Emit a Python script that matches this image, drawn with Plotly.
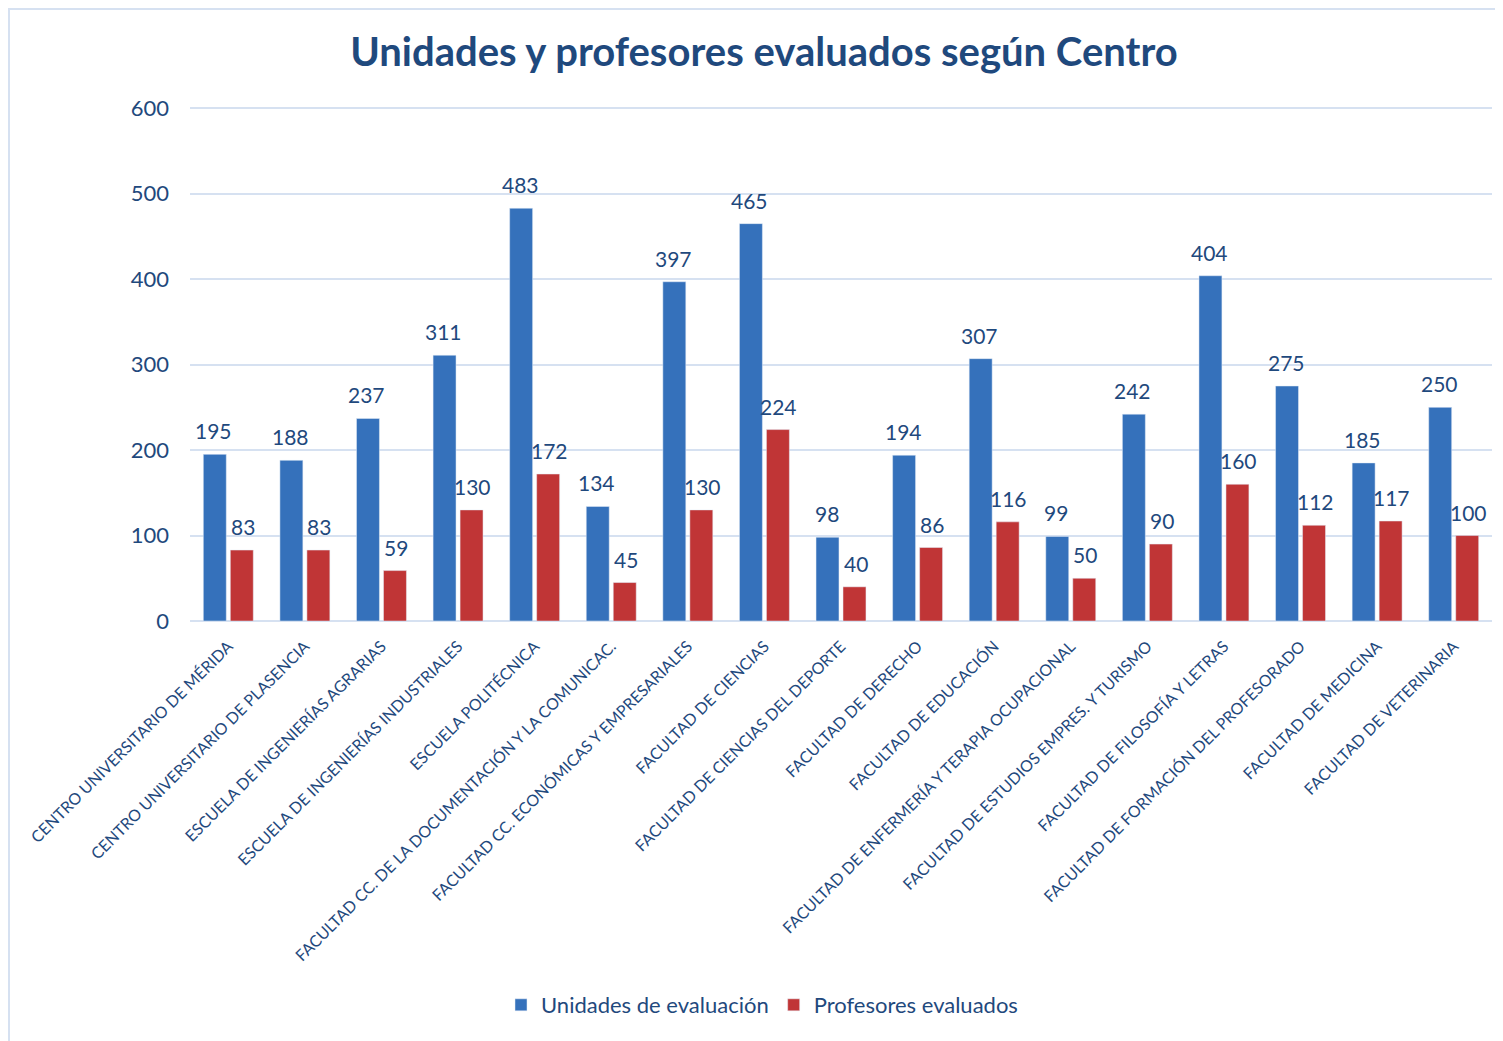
import plotly.graph_objects as go

categories = [
    "CENTRO UNIVERSITARIO DE MÉRIDA",
    "CENTRO UNIVERSITARIO DE PLASENCIA",
    "ESCUELA DE INGENIERÍAS AGRARIAS",
    "ESCUELA DE INGENIERÍAS INDUSTRIALES",
    "ESCUELA POLITÉCNICA",
    "FACULTAD CC. DE LA DOCUMENTACIÓN Y LA COMUNICAC.",
    "FACULTAD CC. ECONÓMICAS Y EMPRESARIALES",
    "FACULTAD DE CIENCIAS",
    "FACULTAD DE CIENCIAS DEL DEPORTE",
    "FACULTAD DE DERECHO",
    "FACULTAD DE EDUCACIÓN",
    "FACULTAD DE ENFERMERÍA Y TERAPIA OCUPACIONAL",
    "FACULTAD DE ESTUDIOS EMPRES. Y TURISMO",
    "FACULTAD DE FILOSOFÍA Y LETRAS",
    "FACULTAD DE FORMACIÓN DEL PROFESORADO",
    "FACULTAD DE MEDICINA",
    "FACULTAD DE VETERINARIA",
]
unidades = [195, 188, 237, 311, 483, 134, 397, 465, 98, 194, 307, 99, 242, 404, 275, 185, 250]
profesores = [83, 83, 59, 130, 172, 45, 130, 224, 40, 86, 116, 50, 90, 160, 112, 117, 100]
y_ticks = [0, 100, 200, 300, 400, 500, 600]

FONT = "Lato"
TXT = "#1f497d"
BLUE = "#3571bb"
RED = "#c03536"

L, R, T, B = 182, 19, 96, 428
W, H = 1503, 1041
PW, PH = W - L - R, H - T - B

fig = go.Figure()
fig.add_trace(go.Bar(x=categories, y=unidades, name="Unidades de evaluación",
                     marker=dict(color=BLUE)))
fig.add_trace(go.Bar(x=categories, y=profesores, name="Profesores evaluados",
                     marker=dict(color=RED)))

for series, shift in ((unidades, -14.5), (profesores, 14.5)):
    for cat, v in zip(categories, series):
        fig.add_annotation(x=cat, y=v, text=str(v), showarrow=False,
                           xshift=shift, yshift=9, yanchor="bottom", xanchor="center",
                           font=dict(size=21, color=TXT, family=FONT))

fig.update_layout(
    width=W, height=H,
    paper_bgcolor="white", plot_bgcolor="white",
    barmode="group", bargap=0.295, bargroupgap=0.15,
    margin=dict(l=L, r=R, t=T, b=B),
    title=dict(text="<b>Unidades y profesores evaluados según Centro</b>",
               x=(764 - 8) / W, xanchor="center", y=1 - (52 - 8) / H, yanchor="middle",
               font=dict(size=40, color=TXT, family=FONT)),
    font=dict(family=FONT, color=TXT),
    legend=dict(orientation="h", x=(762 - 8 - L) / PW, xanchor="center",
                y=-(1005 - 621) / PH, yanchor="middle",
                font=dict(size=22, color=TXT, family=FONT), traceorder="normal"),
    showlegend=True,
)
fig.update_yaxes(range=[0, 605], tickvals=y_ticks, showgrid=True, gridcolor="#d6e1f1",
                 gridwidth=2, zeroline=True, zerolinecolor="#d6e1f1", zerolinewidth=2,
                 tickfont=dict(size=22, color=TXT, family=FONT), ticks="", ticklen=0,
                 ticklabelstandoff=20)
fig.update_xaxes(tickangle=-45, tickfont=dict(size=16, color=TXT, family=FONT),
                 showline=False, ticks="", ticklabelstandoff=12)
fig.add_shape(type="rect", xref="paper", yref="paper",
              x0=-(L - 1) / PW, x1=1 + (R + 5) / PW, y0=-(B + 20) / PH, y1=1 + (T - 1) / PH,
              line=dict(color="#d6e1f1", width=2), fillcolor="rgba(0,0,0,0)", layer="below")

fig.write_html("out.html")
